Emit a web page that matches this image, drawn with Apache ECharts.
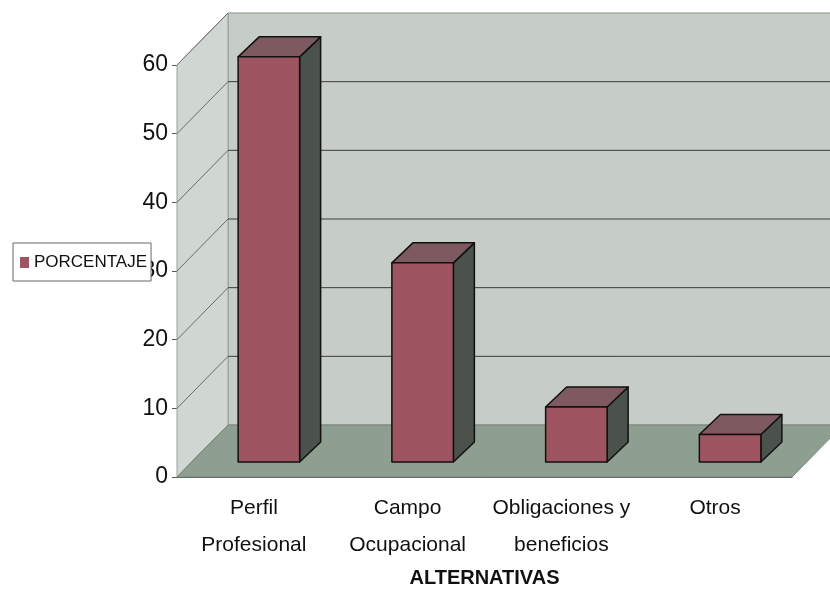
<!DOCTYPE html>
<html>
<head>
<meta charset="utf-8">
<script src="https://cdn.jsdelivr.net/npm/echarts@6/dist/echarts.min.js"></script>
<style>
  html, body { margin: 0; padding: 0; background: #fff; }
  #main { width: 830px; height: 600px; }
</style>
</head>
<body>
<div id="main"></div>
<script>
var categorias = ['Perfil\nProfesional', 'Campo\nOcupacional', 'Obligaciones y\nbeneficios', 'Otros'];
var porcentaje = [59, 29, 8, 4];
var yTicks = [0, 10, 20, 30, 40, 50, 60];

var FONT = '"Liberation Sans", Arial, sans-serif';
// desplazamiento de profundidad (pared del fondo)
var DEPTH = [51, -52];
// cara frontal de la barra y profundidad de la barra
var FRONT = [15, -15];
var BAR_D = [21, -20];

var myChart = echarts.init(document.getElementById('main'));

function paredes(params, api) {
	var cs = params.coordSys;
	var x0 = cs.x, x1 = cs.x + cs.width;
	var yb = cs.y + cs.height, yt = cs.y;
	var dx = DEPTH[0], dy = DEPTH[1];
	var children = [];
	// pared del fondo
	children.push({
		type: 'rect',
		shape: { x: x0 + dx, y: yt + dy, width: cs.width + 60, height: cs.height },
		style: { fill: '#c6cdc7', stroke: '#8a8f8a', lineWidth: 1 }
	});
	// pared lateral
	children.push({
		type: 'polygon',
		shape: { points: [[x0, yb], [x0, yt], [x0 + dx, yt + dy], [x0 + dx, yb + dy]] },
		style: { fill: '#d0d6d2', stroke: '#9aa09a', lineWidth: 1 }
	});
	// lineas de division
	yTicks.forEach(function (v) {
		var y = api.coord([0, v])[1];
		if (v > 0 && v < 60) {
			children.push({
				type: 'line',
				shape: { x1: x0 + dx, y1: y + dy, x2: 830, y2: y + dy },
				style: { stroke: '#3c3c3c', lineWidth: 1 }
			});
		}
		children.push({
			type: 'line',
			shape: { x1: x0, y1: y, x2: x0 + dx, y2: y + dy },
			style: { stroke: '#6a6e6a', lineWidth: 1 }
		});
	});
	// piso
	children.push({
		type: 'polygon',
		shape: { points: [[x0, yb], [x1, yb], [x1 + dx, yb + dy], [x0 + dx, yb + dy]] },
		style: { fill: '#8e9e90', stroke: '#7a857b', lineWidth: 1 }
	});
	return { type: 'group', children: children };
}

function barras3d(params, api) {
	var i = api.value(0), v = api.value(1);
	var c0 = api.coord([i, 0]);
	var c1 = api.coord([i, v]);
	var band = api.size([1, 0])[0];
	var w = band * 0.4;
	var x0 = c0[0] - w / 2 + FRONT[0];
	var x1 = x0 + w;
	var yb = c0[1] + FRONT[1];
	var yt = c1[1] + FRONT[1];
	var ddx = BAR_D[0], ddy = BAR_D[1];
	var borde = { stroke: '#111', lineWidth: 1.5, lineJoin: 'round' };
	return {
		type: 'group',
		children: [
			{
				type: 'polygon',
				shape: { points: [[x1, yb], [x1, yt], [x1 + ddx, yt + ddy], [x1 + ddx, yb + ddy]] },
				style: Object.assign({ fill: '#4b514b' }, borde)
			},
			{
				type: 'polygon',
				shape: { points: [[x0, yt], [x1, yt], [x1 + ddx, yt + ddy], [x0 + ddx, yt + ddy]] },
				style: Object.assign({ fill: '#7e5a60' }, borde)
			},
			{
				type: 'rect',
				shape: { x: x0, y: yt, width: w, height: yb - yt },
				style: Object.assign({ fill: '#9e5561' }, borde)
			}
		]
	};
}

var option = {
	backgroundColor: '#fff',
	animation: false,
	grid: { left: 177, right: 38, top: 65, bottom: 123 },
	legend: {
		data: ['PORCENTAJE'],
		left: 13,
		top: 243,
		padding: [11, 4, 10, 7],
		itemWidth: 9,
		itemHeight: 11,
		icon: 'rect',
		backgroundColor: '#fff',
		borderColor: '#666',
		borderWidth: 1,
		textStyle: { fontFamily: FONT, fontSize: 17, color: '#111' },
		z: 10
	},
	xAxis: {
		type: 'category',
		data: categorias,
		axisLine: { lineStyle: { color: '#555', width: 1 } },
		axisTick: { length: 5, lineStyle: { color: '#555' } },
		axisLabel: {
			interval: 0,
			margin: 13,
			fontFamily: FONT,
			fontSize: 21,
			lineHeight: 37,
			color: '#111'
		},
		name: 'ALTERNATIVAS',
		nameLocation: 'middle',
		nameGap: 90,
		nameTextStyle: { fontFamily: FONT, fontSize: 20, fontWeight: 'bold', color: '#111' }
	},
	yAxis: {
		type: 'value',
		min: 0,
		max: 60,
		interval: 10,
		axisLine: { show: true, lineStyle: { color: '#555', width: 1 } },
		axisTick: { show: true, length: 5, lineStyle: { color: '#555' } },
		axisLabel: { margin: 9, fontFamily: FONT, fontSize: 23, color: '#111' },
		splitLine: { show: false }
	},
	series: [
		{
			type: 'custom',
			renderItem: paredes,
			data: [[0, 0]],
			clip: false,
			silent: true,
			z: 1
		},
		{
			name: 'PORCENTAJE',
			type: 'custom',
			renderItem: barras3d,
			encode: { x: 0, y: 1 },
			data: porcentaje.map(function (v, i) { return [i, v]; }),
			itemStyle: { color: '#9e5561' },
			clip: false,
			z: 3
		}
	]
};

myChart.setOption(option);
</script>
</body>
</html>
